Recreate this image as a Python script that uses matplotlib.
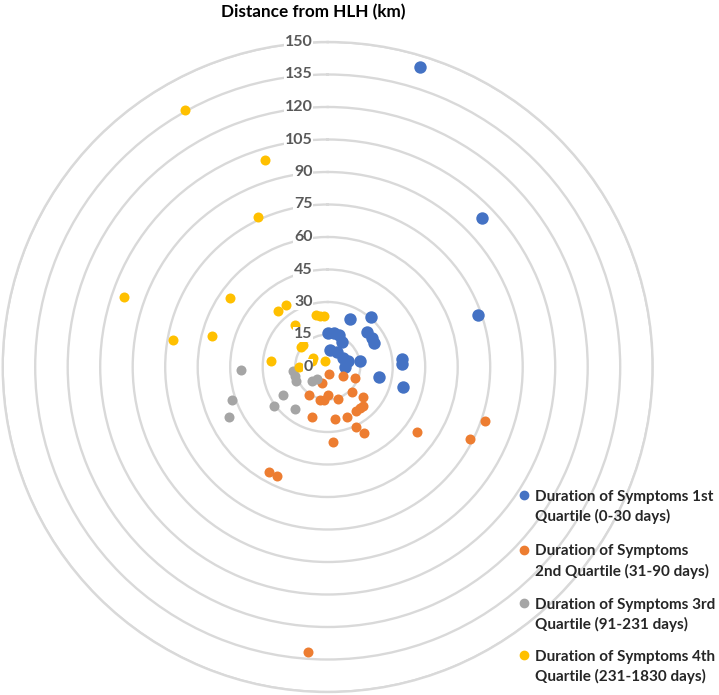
import matplotlib
matplotlib.use("Agg")
import matplotlib.pyplot as plt
import matplotlib.transforms as mtransforms
from matplotlib.lines import Line2D
import numpy as np

plt.rcParams['font.family'] = ['Lato', 'DejaVu Sans']

# bearing (deg clockwise from north) and distance (km) per patient
q1_bearing = [17, 46, 71, 25, 41, 1, 11, 20, 29, 48, 57, 63, 8, 32, 61, 74, 91, 79, 84, 88, 101, 105]
q1_dist = [145, 98.8, 73.4, 24.4, 30.3, 15.6, 15.8, 15.7, 13.3, 24.1, 24.2, 24.0, 7.9, 7.9, 8.2, 9.9, 8.0, 15.2, 34.4, 34.5, 24.2, 36.1]

q2_bearing = [168, 200, 122, 113, 135, 130, 214, 180, 193, 187, 163, 138, 142, 147, 159, 172, 197, 155, 151, 176, 126, 117, 109, 209, 205, 184]
q2_dist = [3.4, 8.1, 8.1, 13.5, 16.0, 21.5, 15.7, 12.8, 15.8, 15.3, 15.6, 24.3, 24.3, 24.4, 24.5, 24.4, 24.3, 30.5, 34.7, 34.8, 51.1, 73.5, 77.0, 55.5, 55.6, 131.7]

q3_bearing = [268, 264, 254, 246, 265, 230, 222, 238, 234, 218, 251, 243]
q3_dist = [40.2, 15.9, 15.6, 15.8, 9.6, 9.7, 7.7, 24.3, 30.6, 24.5, 46.6, 51.3]

q4_bearing = [331, 343, 335, 289, 305, 280, 285, 326, 318, 347, 352, 356, 322, 312, 307, 276, 301, 289, 332, 271]
q4_dist = [135.4, 99.7, 76.4, 99.2, 55.3, 72.3, 55.4, 34.6, 34.6, 24.4, 24.0, 23.8, 24.4, 15.5, 15.7, 26.4, 7.9, 7.8, 3.1, 13.1]

series_labels = [
    "Duration of Symptoms 1st\nQuartile (0-30 days)",
    "Duration of Symptoms\n2nd Quartile (31-90 days)",
    "Duration of Symptoms 3rd\nQuartile (91-231 days)",
    "Duration of Symptoms 4th\nQuartile (231-1830 days)",
]
colors = ['#4472C4', '#ED7D31', '#A5A5A5', '#FFC000']
r_ticks = list(range(0, 151, 15))

W, H = 719, 695
fig = plt.figure(figsize=(W / 100, H / 100), dpi=100)

cx, cy, R = 327.7, 367, 325
ax = fig.add_axes([(cx - R) / W, (H - cy - R) / H, 2 * R / W, 2 * R / H], projection='polar')
ax.set_theta_zero_location('N')
ax.set_theta_direction(-1)
ax.set_ylim(0, 150)
ax.set_yticks(r_ticks)
ax.set_yticklabels([])
ax.set_xticks([])
ax.set_axisbelow(True)
ax.grid(True, color='#d9d9d9', linewidth=1.7)
ax.spines['polar'].set_color('#d9d9d9')
ax.spines['polar'].set_linewidth(1.7)

series = [(q1_bearing, q1_dist), (q2_bearing, q2_dist), (q3_bearing, q3_dist), (q4_bearing, q4_dist)]
sizes = [80, 52, 52, 52]
for (b, d), c, s in zip(series, colors, sizes):
    ax.scatter(np.radians(b), d, s=s, color=c, linewidths=0, zorder=3, clip_on=False)

lab_tr = mtransforms.offset_copy(ax.transData, fig=fig, x=-15, y=0, units='dots')
for r in r_ticks:
    ax.text(0, r, str(r), transform=lab_tr, ha='right', va='center', fontsize=11.5,
            fontweight='bold', color='#595959', zorder=5,
            bbox=dict(boxstyle='square,pad=0.05', fc='white', ec='none'))

fig.text(313 / W, 1 - 12 / H, "Distance from HLH (km)", ha='center', va='center',
         fontsize=12.3, fontweight='bold', color='#000000')

# legend, drawn by hand so the marker sits on the first line
line1_y = [495, 550, 603, 655]
for lab, c, y in zip(series_labels, colors, line1_y):
    fig.add_artist(Line2D([524 / W], [1 - y / H], marker='o', markersize=6, color=c,
                          linestyle='none', transform=fig.transFigure))
    for i, part in enumerate(lab.split('\n')):
        fig.text(535 / W, 1 - (y + 20 * i) / H, part, ha='left', va='center_baseline',
                 fontsize=11, fontweight='bold', color='#262626')

fig.savefig('out.png', dpi=100)
